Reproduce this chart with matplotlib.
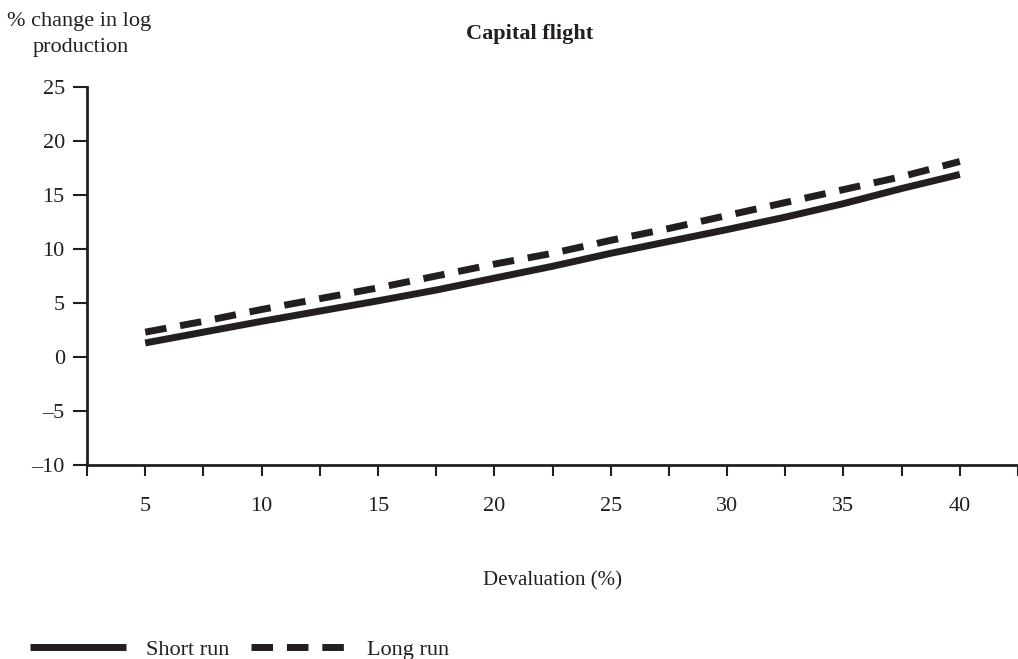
import numpy as np
import matplotlib
matplotlib.use("Agg")
import matplotlib.pyplot as plt

# Capital flight: production response to devaluation
devaluation = [5, 7.5, 10, 12.5, 15, 17.5, 20, 22.5, 25, 27.5, 30, 32.5, 35, 37.5, 40]
short_run = [1.3, 2.3, 3.3, 4.25, 5.2, 6.2, 7.3, 8.4, 9.6, 10.7, 11.8, 12.95, 14.2, 15.6, 16.9]
long_run = [2.3, 3.3, 4.4, 5.4, 6.4, 7.5, 8.6, 9.6, 10.8, 11.9, 13.1, 14.3, 15.5, 16.7, 18.1]
x_labels = [5, 10, 15, 20, 25, 30, 35, 40]
y_ticks = [-10, -5, 0, 5, 10, 15, 20, 25]

ink = '#231f20'
plt.rcParams['font.family'] = ['Liberation Serif', 'DejaVu Serif']
plt.rcParams['text.color'] = ink
fs = 16

fig = plt.figure(figsize=(10.18, 6.59), dpi=100)
ax = fig.add_axes([0.0855, 0.2944, 0.9145, 0.5736])

ax.plot(devaluation, short_run, color=ink, lw=5, solid_capstyle='butt', label='Short run')
ax.plot(devaluation, long_run, color=ink, lw=5, dashes=(3.1, 2.0), dash_capstyle='butt',
        label='Long run')

ax.set_xlim(2.5, 42.5)
ax.set_ylim(-10, 25)

xt = np.arange(2.5, 42.6, 2.5)
ax.set_xticks(xt)
ax.set_xticklabels([str(int(v)) if v in x_labels else '' for v in xt])
ax.set_yticks(y_ticks)
ax.set_yticklabels([str(v).replace('-', '\u2013') for v in y_ticks])

ax.tick_params(axis='x', direction='out', length=8, width=1.5, color=ink,
               labelsize=fs, labelcolor=ink, pad=15)
ax.tick_params(axis='y', direction='out', length=10, width=1.5, color=ink,
               labelsize=fs, labelcolor=ink, pad=6)

for s in ['top', 'right']:
    ax.spines[s].set_visible(False)
for s in ['left', 'bottom']:
    ax.spines[s].set_linewidth(2)
    ax.spines[s].set_color(ink)

ax.set_xlabel('Devaluation (%)', fontsize=15, color=ink, labelpad=40)
fig.text(0.007, 0.982, '% change in log', fontsize=fs, va='top', ha='left')
fig.text(0.032, 0.943, 'production', fontsize=fs, va='top', ha='left')
fig.text(0.52, 0.948, 'Capital flight', fontsize=fs, fontweight='bold', ha='center', va='center')

fig.legend(loc='lower left', bbox_to_anchor=(0.01, -0.032), ncol=2, frameon=False,
           fontsize=fs, handlelength=4.3, handletextpad=0.9, columnspacing=1.0)

fig.savefig('out.png', dpi=100)
